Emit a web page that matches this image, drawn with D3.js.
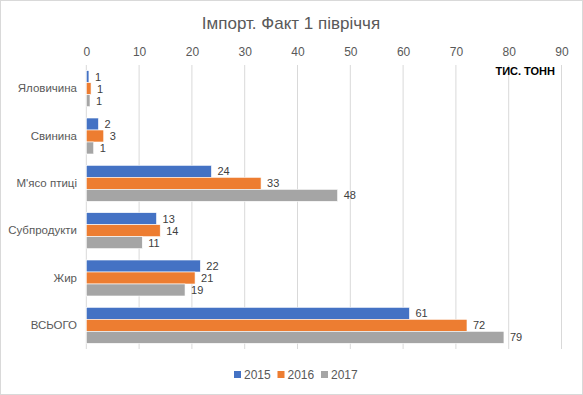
<!DOCTYPE html>
<html>
<head>
<meta charset="utf-8">
<script src="https://cdn.jsdelivr.net/npm/d3@7"></script>
<style>
  body { margin: 0; background: #fff; }
  svg { display: block; font-family: "Liberation Sans", Arial, sans-serif; }
</style>
</head>
<body>
<div id="chart"></div>
<script>
// Chart data
var categories = ["Яловичина", "Свинина", "М'ясо птиці", "Субпродукти", "Жир", "ВСЬОГО"];
var years = ["2015", "2016", "2017"];
var v2015 = [0.5, 2.3, 23.7, 13.3, 21.6, 61.2];
var v2016 = [0.9, 3.3, 33.1, 14.0, 20.6, 72.1];
var v2017 = [0.7, 1.4, 47.6, 10.6, 18.7, 79.1];
var xTicks = [0, 10, 20, 30, 40, 50, 60, 70, 80, 90];
var colors = ["#4472C4", "#ED7D31", "#A5A5A5"];

var W = 583, H = 395;
var series = [v2015, v2016, v2017];

var svg = d3.select("#chart").append("svg")
    .attr("width", W)
    .attr("height", H);

// outer border of the chart
svg.append("rect")
    .attr("x", 0.5).attr("y", 0.5)
    .attr("width", W - 1).attr("height", H - 1)
    .attr("fill", "#fff")
    .attr("stroke", "#d9d9d9");

// scales
var x = d3.scaleLinear().domain([0, 90]).range([86.3, 561.5]);
var y = d3.scaleBand().domain(categories).range([65, 349]).paddingInner(0.24).paddingOuter(0.12);
var yInner = d3.scaleBand().domain(d3.range(years.length)).range([0, y.bandwidth()]);

// title
svg.append("text")
    .attr("x", 291).attr("y", 29)
    .attr("text-anchor", "middle")
    .attr("fill", "#595959")
    .style("font-size", "17px")
    .text("Імпорт. Факт 1 півріччя");

// gridlines
svg.append("g").selectAll("line")
    .data(xTicks)
    .enter().append("line")
    .attr("x1", d => x(d)).attr("x2", d => x(d))
    .attr("y1", 65).attr("y2", 349)
    .attr("stroke", "#d9d9d9")
    .attr("stroke-width", 1);

// top axis labels
var xAxis = svg.append("g")
    .attr("transform", "translate(0,56)")
    .call(d3.axisTop(x).tickValues(xTicks).tickSize(0).tickPadding(0));
xAxis.select(".domain").remove();
xAxis.selectAll("text")
    .attr("fill", "#595959")
    .style("font-size", "12px")
    .style("font-family", "Liberation Sans, Arial, sans-serif");

// category labels
var yAxis = svg.append("g")
    .attr("transform", "translate(77,0)")
    .call(d3.axisLeft(y).tickSize(0).tickPadding(0));
yAxis.select(".domain").remove();
yAxis.selectAll("text")
    .attr("fill", "#595959")
    .style("font-size", "11.5px")
    .style("font-family", "Liberation Sans, Arial, sans-serif");

// units label
svg.append("text")
    .attr("x", 555).attr("y", 75)
    .attr("text-anchor", "end")
    .attr("fill", "#000")
    .style("font-size", "11px")
    .style("font-weight", "bold")
    .text("ТИС. ТОНН");

// bars and value labels
series.forEach(function(vals, s) {
    var g = svg.append("g");
    g.selectAll("rect")
        .data(vals)
        .enter().append("rect")
        .attr("x", x(0))
        .attr("y", (d, i) => y(categories[i]) + yInner(s))
        .attr("width", d => x(d) - x(0))
        .attr("height", yInner.bandwidth())
        .attr("fill", colors[s])
        .attr("stroke", "#fff")
        .attr("stroke-width", 0.6);
    g.selectAll("text")
        .data(vals)
        .enter().append("text")
        .attr("x", d => x(d) + 6)
        .attr("y", (d, i) => y(categories[i]) + yInner(s) + yInner.bandwidth() / 2)
        .attr("dy", "0.35em")
        .attr("fill", "#404040")
        .style("font-size", "11px")
        .text(d => Math.round(d));
});

// legend
var legendX = [234, 277.5, 321];
var legend = svg.append("g");
years.forEach(function(yr, i) {
    legend.append("rect")
        .attr("x", legendX[i]).attr("y", 371)
        .attr("width", 7).attr("height", 7)
        .attr("fill", colors[i]);
    legend.append("text")
        .attr("x", legendX[i] + 10).attr("y", 375)
        .attr("dy", "0.35em")
        .attr("fill", "#595959")
        .style("font-size", "12px")
        .text(yr);
});
</script>
</body>
</html>
